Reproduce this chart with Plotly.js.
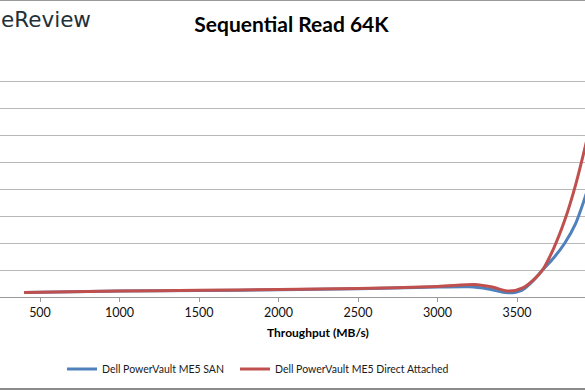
<!DOCTYPE html>
<html>
<head>
<meta charset="utf-8">
<script src="https://cdn.plot.ly/plotly-3.0.1.min.js"></script>
<style>
  html, body { margin: 0; padding: 0; background: #ffffff; }
  #chart { width: 585px; height: 390px; }
</style>
</head>
<body>
<div id="chart"></div>
<script>
// Throughput (MB/s) vs latency (ms)
const seriesNames = ["Dell PowerVault ME5 SAN", "Dell PowerVault ME5 Direct Attached"];
const throughputSAN = [400, 1000, 1500, 2000, 2500, 3000, 3200, 3320, 3440, 3530, 3600, 3660, 3730, 3800, 3870, 3950];
const latencySAN    = [0.17, 0.22, 0.24, 0.27, 0.31, 0.37, 0.38, 0.30, 0.16, 0.25, 0.60, 1.00, 1.45, 2.00, 2.75, 4.10];
const throughputDA  = [400, 1000, 1500, 2000, 2500, 3000, 3250, 3350, 3450, 3540, 3600, 3660, 3730, 3800, 3870, 3950];
const latencyDA     = [0.17, 0.22, 0.25, 0.28, 0.32, 0.39, 0.46, 0.36, 0.22, 0.35, 0.62, 1.00, 1.80, 2.85, 4.20, 6.10];
const xTickVals = [500, 1000, 1500, 2000, 2500, 3000, 3500];
const xTickText = ["500", "1000", "1500", "2000", "2500", "3000", "3500"];
const yTickVals = [0, 1, 2, 3, 4, 5, 6, 7, 8, 9];

const W = 585, H = 390;
const mT = 55, mB = 93;
const plotH = H - mT - mB;
const py = p => (H - mB - p) / plotH;   // pixel y -> paper y
const px = p => p / W;                  // pixel x -> paper x

const traces = [
  {
    x: throughputSAN, y: latencySAN, name: seriesNames[0], type: "scatter", mode: "lines",
    line: { color: "#4F81BD", width: 3, shape: "spline", smoothing: 0.8 },
    legend: "legend",
    hoverinfo: "x+y+name"
  },
  {
    x: throughputDA, y: latencyDA, name: seriesNames[1], type: "scatter", mode: "lines",
    line: { color: "#C0504D", width: 3, shape: "spline", smoothing: 0.8 },
    legend: "legend2",
    hoverinfo: "x+y+name"
  }
];

const legendBase = {
  orientation: "h",
  xanchor: "left",
  y: py(369), yanchor: "middle",
  font: { family: "Lato, sans-serif", size: 10.5, color: "#1a1a1a" },
  bgcolor: "rgba(0,0,0,0)", borderwidth: 0,
  itemwidth: 30
};

const layout = {
  width: W, height: H,
  margin: { l: 0, r: 0, t: mT, b: mB, pad: 0 },
  paper_bgcolor: "#ffffff",
  plot_bgcolor: "#ffffff",
  font: { family: "Lato, 'Open Sans', sans-serif", size: 11, color: "#1a1a1a" },
  title: {
    text: "<b>Sequential Read 64K</b>",
    font: { family: "Lato, sans-serif", size: 21, color: "#000000" },
    xref: "container", x: 291.5 / W, xanchor: "center",
    yref: "container", y: 1 - 25 / H, yanchor: "middle"
  },
  xaxis: {
    range: [248.4, 3927.7],
    tickvals: xTickVals, ticktext: xTickText,
    showgrid: false, zeroline: false,
    showline: true, linecolor: "#999999", linewidth: 1,
    ticks: "outside", ticklen: 4, tickcolor: "#999999", tickwidth: 1,
    tickfont: { family: "Lato, sans-serif", size: 12.5, color: "#111111" },
    fixedrange: true
  },
  yaxis: {
    range: [0, 9],
    tickvals: yTickVals,
    showticklabels: false,
    showgrid: true, gridcolor: "#b8b8b8", gridwidth: 1,
    zeroline: false, showline: false, ticks: "",
    fixedrange: true
  },
  showlegend: true,
  legend: Object.assign({}, legendBase, { x: px(62) }),
  legend2: Object.assign({}, legendBase, { x: px(235) }),
  annotations: [
    {
      text: "<b>Throughput (MB/s)</b>",
      xref: "paper", yref: "paper",
      x: px(318), y: py(332), xanchor: "center", yanchor: "middle",
      showarrow: false,
      font: { family: "Lato, sans-serif", size: 12, color: "#000000" }
    },
    {
      text: "eReview",
      xref: "paper", yref: "paper",
      x: px(-1), y: py(19), xanchor: "left", yanchor: "middle",
      showarrow: false,
      font: { family: "'DejaVu Sans', sans-serif", size: 21.5, color: "#22303a" }
    }
  ],
  shapes: [
    { type: "line", xref: "paper", yref: "paper", x0: 0, x1: 1, y0: py(0.5), y1: py(0.5),
      line: { color: "#9a9a9a", width: 1 } },
    { type: "line", xref: "paper", yref: "paper", x0: 0, x1: 1, y0: py(389), y1: py(389),
      line: { color: "#8a8a8a", width: 2 } }
  ]
};

Plotly.newPlot("chart", traces, layout, { displayModeBar: false, staticPlot: true });
</script>
</body>
</html>
